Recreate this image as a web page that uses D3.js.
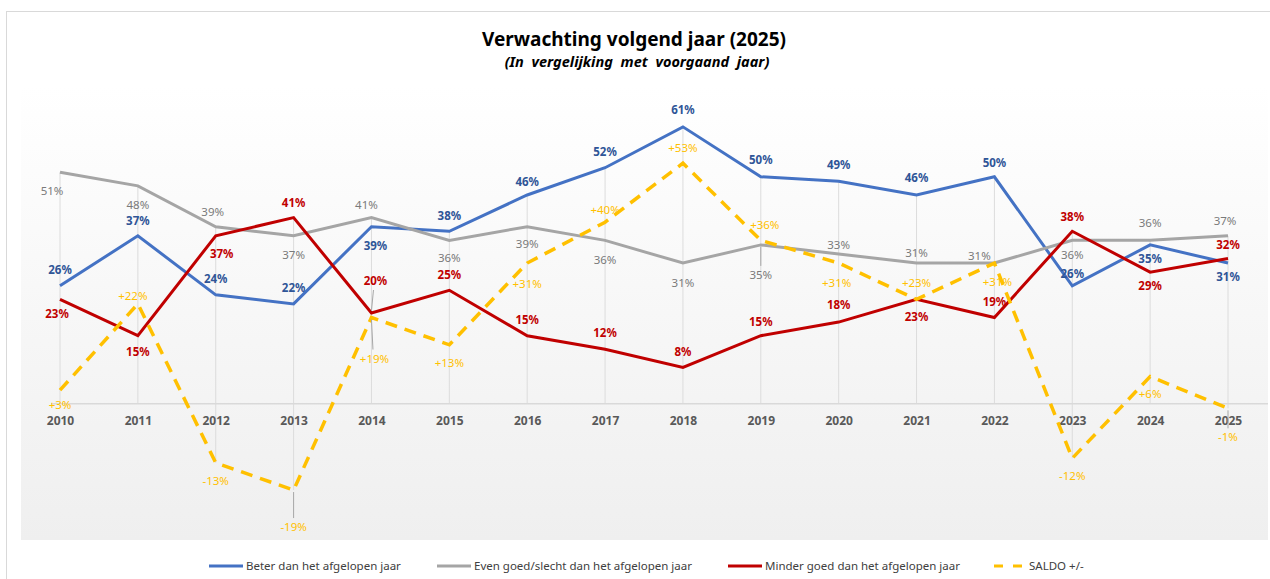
<html>
<head>
<meta charset="utf-8">
<style>
  body { margin: 0; background: #fff; }
  text { font-family: "Noto Sans", "Liberation Sans", sans-serif; }
</style>
</head>
<body>
<script src="https://d3js.org/d3.v7.min.js"></script>
<script>

// data
var years = ["2010","2011","2012","2013","2014","2015","2016","2017","2018","2019","2020","2021","2022","2023","2024","2025"];
var beter  = [26, 37, 24, 22, 39, 38, 46, 52, 61, 50, 49, 46, 50, 26, 35, 31];
var even   = [51, 48, 39, 37, 41, 36, 39, 36, 31, 35, 33, 31, 31, 36, 36, 37];
var minder = [23, 15, 37, 41, 20, 25, 15, 12,  8, 15, 18, 23, 19, 38, 29, 32];
var saldo  = [ 3, 22,-13,-19, 19, 13, 31, 40, 53, 36, 31, 23, 31,-12,  6, -1];

var seriesNames = ["Beter dan het afgelopen jaar", "Even goed/slecht dan het afgelopen jaar",
                   "Minder goed dan het afgelopen jaar", "SALDO +/-"];

// label placement (offset of label centre from the point, px)
var labelDy = [
  [-16,-15,-16,-16, 19,-15,-13,-16,-17,-17,-16,-17,-14,-12, 14, 14],
  [ 19, 19,-15, 19,-13, 18, 17, 20, 20, 30, -9,-10, -7, 15,-17,-15],
  [ 15, 16, 18,-15,-32,-15,-16,-16,-16,-14,-17, 18,-16,-14, 14,-14],
  [ 15, -8, 18, 37, 41, 18, 21,-12,-15,-15, 20,-16, 19, 18, 17, 29]
];
var labelDx = [
  [0,0,0,0,4,0,0,0,0,0,0,0,0,0,0,0],
  [-8,0,-3,0,-5,0,0,0,0,0,0,0,-15,0,0,-3],
  [-3,0,6,0,4,0,0,0,0,0,0,0,0,0,0,0],
  [0,-5,0,0,3,0,0,0,0,4,-2,0,3,0,0,0]
];

var W = 1270, H = 579;
var svg = d3.select("body").append("svg")
  .attr("width", W).attr("height", H);

var plot = { left: 21, right: 1268, top: 86, bottom: 540 };

var x = d3.scalePoint().domain(years).range([60, 1228]);
var y = d3.scaleLinear().domain([-30, 70]).range([plot.bottom, plot.top]);

var defs = svg.append("defs");
var grad = defs.append("linearGradient").attr("id", "bg")
  .attr("x1", 0).attr("y1", 0).attr("x2", 0).attr("y2", 1);
grad.append("stop").attr("offset", "0%").attr("stop-color", "#ffffff");
grad.append("stop").attr("offset", "100%").attr("stop-color", "#efefef");

// outer chart border
svg.append("rect")
  .attr("x", 6.5).attr("y", 11.5).attr("width", W + 10).attr("height", H + 10)
  .attr("fill", "#fff").attr("stroke", "#d9d9d9").attr("stroke-width", 1);

svg.append("rect")
  .attr("x", plot.left).attr("y", plot.top)
  .attr("width", plot.right - plot.left).attr("height", plot.bottom - plot.top)
  .attr("fill", "url(#bg)");

// title
svg.append("text")
  .attr("x", 634).attr("y", 46)
  .attr("text-anchor", "middle")
  .style("font-size", "19px").style("font-weight", "bold").attr("fill", "#000")
  .text("Verwachting volgend jaar (2025)");
svg.append("text")
  .attr("x", 637).attr("y", 67)
  .attr("text-anchor", "middle")
  .style("font-size", "14.5px").style("font-weight", "bold").style("font-style", "italic")
  .style("word-spacing", "4px")
  .attr("fill", "#000")
  .text("(In vergelijking met voorgaand jaar)");

var series = [
  { name: seriesNames[0], values: beter,  color: "#4472C4", label: "#2F5597", weight: "bold",   dash: null, fmt: function(v) { return v + "%"; } },
  { name: seriesNames[1], values: even,   color: "#A5A5A5", label: "#7a7a7a", weight: "normal", dash: null, fmt: function(v) { return v + "%"; } },
  { name: seriesNames[2], values: minder, color: "#C00000", label: "#C00000", weight: "bold",   dash: null, fmt: function(v) { return v + "%"; } },
  { name: seriesNames[3], values: saldo,  color: "#FFC000", label: "#FFC000", weight: "normal", dash: "12,8", fmt: function(v) { return (v > 0 ? "+" : "") + v + "%"; } }
];

// drop lines
var drops = years.map(function(yr, i) {
  var vals = series.map(function(s) { return s.values[i]; });
  return { yr: yr, hi: Math.max(0, d3.max(vals)), lo: Math.min(0, d3.min(vals)) };
});
svg.append("g").selectAll("line").data(drops).enter().append("line")
  .attr("x1", function(d) { return x(d.yr); }).attr("x2", function(d) { return x(d.yr); })
  .attr("y1", function(d) { return y(d.hi); }).attr("y2", function(d) { return y(d.lo); })
  .attr("stroke", "#dcdcdc").attr("stroke-width", 1);

// zero axis
svg.append("line")
  .attr("x1", plot.left + 30).attr("x2", plot.right)
  .attr("y1", y(0)).attr("y2", y(0))
  .attr("stroke", "#d9d9d9").attr("stroke-width", 1.5);

var xAxis = svg.append("g")
  .attr("transform", "translate(0," + (y(0) + 17) + ")")
  .call(d3.axisBottom(x).tickSize(0).tickPadding(0));
xAxis.select(".domain").remove();
xAxis.selectAll("text")
  .attr("dy", "0.35em")
  .style("font-family", "\"Noto Sans\", sans-serif")
  .style("font-size", "12px").style("font-weight", "bold").attr("fill", "#595959");

// lines
var line = d3.line()
  .x(function(d, i) { return x(years[i]); })
  .y(function(d) { return y(d); });

series.forEach(function(s) {
  svg.append("path")
    .datum(s.values)
    .attr("d", line)
    .attr("fill", "none")
    .attr("stroke", s.color)
    .attr("stroke-width", s.dash ? 3.5 : 3)
    .attr("stroke-dasharray", s.dash)
    .attr("stroke-linejoin", "miter");
});

// leader lines for labels placed far away
series.forEach(function(s, k) {
  s.values.forEach(function(v, i) {
    var dy = labelDy[k][i];
    if (Math.abs(dy) >= 29) {
      var px = x(years[i]), py = y(v);
      var sgn = dy > 0 ? 1 : -1;
      svg.append("line")
        .attr("x1", px).attr("y1", py + sgn * 2)
        .attr("x2", px + labelDx[k][i] * 0.5).attr("y2", py + dy - sgn * 9)
        .attr("stroke", "#a6a6a6").attr("stroke-width", 1);
    }
  });
});

// data labels
series.forEach(function(s, k) {
  svg.append("g").selectAll("text").data(s.values).enter().append("text")
    .attr("x", function(d, i) { return x(years[i]) + labelDx[k][i]; })
    .attr("y", function(d, i) { return y(d) + labelDy[k][i]; })
    .attr("dy", "0.35em")
    .attr("text-anchor", "middle")
    .style("font-size", "11.5px").style("font-weight", s.weight)
    .attr("fill", s.label)
    .text(s.fmt);
});

// legend
var legendX = [209, 437, 728, 994];
var lg = svg.append("g").attr("transform", "translate(0,566)");
series.forEach(function(s, k) {
  var g = lg.append("g").attr("transform", "translate(" + legendX[k] + ",0)");
  if (s.dash) {
    g.append("line").attr("x1", 0).attr("x2", 30).attr("y1", 0).attr("y2", 0)
      .attr("stroke", s.color).attr("stroke-width", 3).attr("stroke-dasharray", "9,10");
  } else {
    g.append("line").attr("x1", 0).attr("x2", 34).attr("y1", 0).attr("y2", 0)
      .attr("stroke", s.color).attr("stroke-width", 3);
  }
  g.append("text").attr("x", s.dash ? 35 : 37).attr("y", 0).attr("dy", "0.35em")
    .style("font-size", "11.5px").attr("fill", "#404040")
    .text(s.name);
});

</script>
</body>
</html>
